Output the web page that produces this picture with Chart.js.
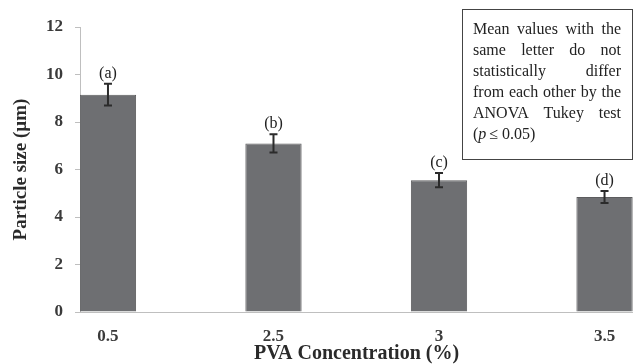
<!DOCTYPE html>
<html>
<head>
<meta charset="utf-8">
<script src="https://cdn.jsdelivr.net/npm/chart.js@4.4.1/dist/chart.umd.min.js"></script>
<style>
  html, body { margin: 0; padding: 0; background: #fff; }
  #wrap { width: 633px; height: 364px; position: relative; }
</style>
</head>
<body>
<div id="wrap"><canvas id="myChart"></canvas></div>
<script>
// PVA concentration (%) vs mean particle size (µm)
const categories = ["0.5", "2.5", "3", "3.5"];
const meanSize = [9.15, 7.1, 5.55, 4.84];
const sizeError = [0.46, 0.38, 0.3, 0.25];
const groupLetters = ["(a)", "(b)", "(c)", "(d)"];
const noteLines = [
  "Mean values with the",
  "same letter do not",
  "statistically differ",
  "from each other by the",
  "ANOVA Tukey test"
];

const serif = "'Liberation Serif', 'Times New Roman', serif";

// error bars + letter above each bar
const errorBars = {
  id: "errorBars",
  afterDatasetsDraw(chart) {
    const ctx = chart.ctx;
    const y = chart.scales.y;
    const meta = chart.getDatasetMeta(0);
    ctx.save();
    ctx.strokeStyle = "#2b2b2b";
    ctx.lineWidth = 2;
    meta.data.forEach((bar, i) => {
      const top = y.getPixelForValue(meanSize[i] + sizeError[i]);
      const bot = y.getPixelForValue(meanSize[i] - sizeError[i]);
      ctx.beginPath();
      ctx.moveTo(bar.x, top); ctx.lineTo(bar.x, bot);
      ctx.moveTo(bar.x - 4, top); ctx.lineTo(bar.x + 4, top);
      ctx.moveTo(bar.x - 4, bot); ctx.lineTo(bar.x + 4, bot);
      ctx.stroke();
      ctx.fillStyle = "#222";
      ctx.font = "16px " + serif;
      ctx.textAlign = "center";
      ctx.textBaseline = "alphabetic";
      ctx.fillText(groupLetters[i], bar.x, top - 6);
    });
    ctx.restore();
  }
};

// boxed note, justified like a text block
const noteBox = {
  id: "noteBox",
  afterDraw(chart) {
    const ctx = chart.ctx;
    const left = 462, top = 9, right = 632, bottom = 159;
    const tx = 473, tw = 148, lh = 21;
    ctx.save();
    ctx.strokeStyle = "#444";
    ctx.lineWidth = 1;
    ctx.strokeRect(left + 0.5, top + 0.5, right - left, bottom - top);
    ctx.fillStyle = "#222";
    ctx.font = "16px " + serif;
    ctx.textBaseline = "alphabetic";
    ctx.textAlign = "left";
    noteLines.forEach((line, k) => {
      const words = line.split(" ");
      const wordsW = words.reduce((s, w) => s + ctx.measureText(w).width, 0);
      const gap = Math.max(1.5, (tw - wordsW) / (words.length - 1));
      let x = tx;
      const by = top + 25 + k * lh;
      words.forEach(w => {
        ctx.fillText(w, x, by);
        x += ctx.measureText(w).width + gap;
      });
    });
    // last line with italic p
    const by = top + 25 + noteLines.length * lh;
    let x = tx;
    ctx.fillText("(", x, by); x += ctx.measureText("(").width;
    ctx.font = "italic 16px " + serif;
    ctx.fillText("p", x, by); x += ctx.measureText("p").width + 3;
    ctx.font = "16px " + serif;
    ctx.fillText("\u2264 0.05)", x, by);
    ctx.restore();
  }
};

const ctx = document.getElementById("myChart").getContext("2d");
const myChart = new Chart(ctx, {
  type: "bar",
  data: {
    datasets: [{
      data: meanSize.map((v, i) => ({ x: i, y: v })),
      backgroundColor: "#6e6f72",
      borderColor: "#5c5c5e",
      borderWidth: 1,
      categoryPercentage: 1,
      barPercentage: 0.34
    }]
  },
  options: {
    responsive: true,
    maintainAspectRatio: false,
    animation: false,
    layout: { padding: { top: 27, right: 0, left: 0, bottom: 0 } },
    plugins: { legend: { display: false }, tooltip: { enabled: false } },
    scales: {
      x: {
        type: "linear",
        offset: false,
        min: -0.169,
        max: 3.172,
        afterBuildTicks: (axis) => { axis.ticks = categories.map((c, i) => ({ value: i })); },
        afterFit: (axis) => { axis.height = 52; },
        grid: { offset: false, drawOnChartArea: false, drawTicks: false },
        border: { color: "#bfbfbf", width: 1 },
        ticks: {
          padding: 14,
          color: "#3a3a3a",
          font: { family: serif, size: 17, weight: "bold" },
          callback: (v) => categories[v]
        },
        title: {
          display: true,
          text: "PVA Concentration (%)",
          color: "#2a2a2a",
          font: { family: serif, size: 20, weight: "bold" },
          padding: { top: 0, bottom: -2 }
        }
      },
      y: {
        min: 0,
        max: 12,
        afterFit: (axis) => { axis.width = 80; },
        grid: { drawOnChartArea: false, drawTicks: true, tickLength: 5, color: "#bfbfbf" },
        border: { color: "#bfbfbf", width: 1 },
        ticks: {
          stepSize: 2,
          padding: 12,
          color: "#3a3a3a",
          font: { family: serif, size: 17, weight: "bold" }
        },
        title: {
          display: true,
          text: "Particle size (\u00b5m)",
          color: "#2a2a2a",
          font: { family: serif, size: 19, weight: "bold" },
          padding: { top: 10, bottom: 0 }
        }
      }
    }
  },
  plugins: [errorBars, noteBox]
});
</script>
</body>
</html>
